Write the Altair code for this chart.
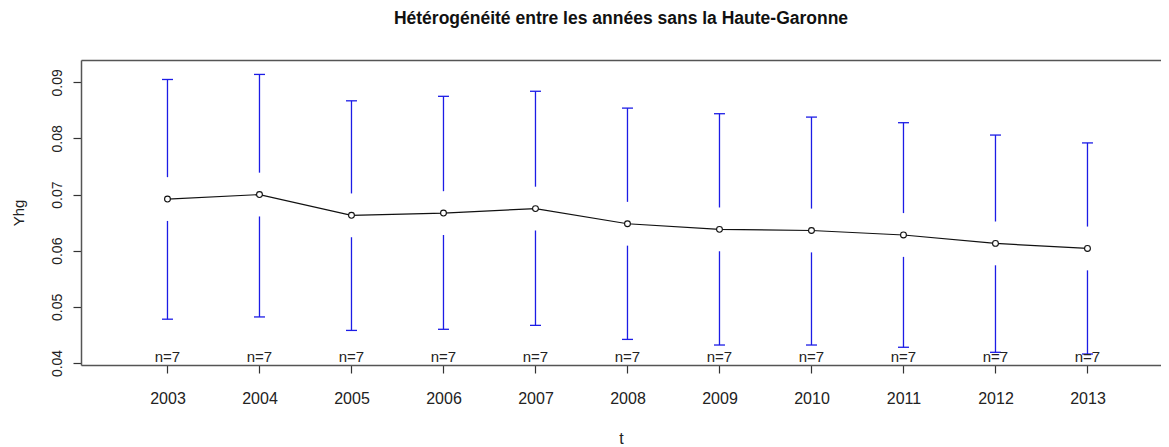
import altair as alt
import pandas as pd

years = [2003, 2004, 2005, 2006, 2007, 2008, 2009, 2010, 2011, 2012, 2013]
means = [0.0692, 0.0700, 0.0663, 0.0667, 0.0675, 0.0648, 0.0638, 0.0636, 0.0628, 0.0613, 0.0604]
upper = [0.0905, 0.0914, 0.0867, 0.0875, 0.0884, 0.0854, 0.0844, 0.0838, 0.0828, 0.0806, 0.0792]
lower = [0.0478, 0.0482, 0.0458, 0.0460, 0.0467, 0.0442, 0.0432, 0.0432, 0.0428, 0.0419, 0.0416]
counts = [7, 7, 7, 7, 7, 7, 7, 7, 7, 7, 7]
y_ticks = [0.04, 0.05, 0.06, 0.07, 0.08, 0.09]

W = 1080
Y_MIN, Y_MAX = 0.03964, 0.09397
X_MIN = 2002.06
X_MAX = X_MIN + W / 92.0
GAP = 0.0039
FONT = "Liberation Sans"
BLUE = "#1c1ce6"
FRAME = "#555"

df = pd.DataFrame({"t": years, "mean": means, "upper": upper, "lower": lower, "n": counts})
df["label"] = ["n=" + str(c) for c in counts]
df["up_start"] = df["mean"] + GAP
df["low_start"] = df["mean"] - GAP
df["ymin"] = Y_MIN

xs = alt.Scale(domain=[X_MIN, X_MAX], nice=False, zero=False)
ys = alt.Scale(domain=[Y_MIN, Y_MAX], nice=False, zero=False)

x_bottom = alt.X("t:Q", scale=xs, axis=alt.Axis(
    values=years, format="d", grid=False, title="t", tickSize=8, labelPadding=17,
    labelFontSize=16, labelFont=FONT, labelColor="#222", titleFont=FONT, titleFontSize=16,
    titleFontWeight="normal", titleColor="#222", titleY=73, titleX=540, titleBaseline="middle",
    titleAlign="center",
    domain=True, domainColor=FRAME, domainWidth=1.5,
    tickColor="#333", tickWidth=1.2, labelBaseline="top"))
x_top = alt.X("t:Q", scale=xs, axis=alt.Axis(
    orient="top", labels=False, ticks=False, grid=False, title=None,
    domain=True, domainColor=FRAME, domainWidth=1.5))
x_none = alt.X("t:Q", scale=xs, axis=None)
y_left = alt.Y("mean:Q", scale=ys, axis=alt.Axis(
    values=y_ticks, format=".2f", grid=False, title="Yhg", tickSize=8, labelPadding=9,
    labelAngle=270, labelAlign="center", labelBaseline="bottom",
    labelFontSize=14, labelFont=FONT, labelColor="#222", titleFont=FONT, titleFontSize=15,
    titleFontWeight="normal", titleColor="#222", titleAngle=270, titleX=-63, titleY=152.5,
    titleBaseline="middle", titleAlign="center",
    domain=True, domainColor=FRAME, domainWidth=1.5,
    tickColor="#333", tickWidth=1.2))

base = alt.Chart(df)

upper_seg = base.mark_rule(color=BLUE, strokeWidth=1.3).encode(
    x=x_none, y=alt.Y("upper:Q", scale=ys, axis=None), y2="up_start:Q")
lower_seg = base.mark_rule(color=BLUE, strokeWidth=1.3).encode(
    x=x_none, y=alt.Y("low_start:Q", scale=ys, axis=None), y2="lower:Q")
cap_up = base.mark_rule(color=BLUE, strokeWidth=1.3, xOffset=-5.5, x2Offset=5.5).encode(
    x=x_none, x2="t:Q", y=alt.Y("upper:Q", scale=ys, axis=None))
cap_low = base.mark_rule(color=BLUE, strokeWidth=1.3, xOffset=-5.5, x2Offset=5.5).encode(
    x=x_none, x2="t:Q", y=alt.Y("lower:Q", scale=ys, axis=None))

line = base.mark_line(color="#111", strokeWidth=1.2).encode(x=x_bottom, y=y_left)
pts = base.mark_point(shape="circle", filled=False, fill="white", fillOpacity=1,
                      color="#111", size=34, strokeWidth=1.1).encode(
    x=x_top, y=alt.Y("mean:Q", scale=ys, axis=None))
ntext = base.mark_text(font=FONT, fontSize=15, color="#222", baseline="alphabetic", dy=-3).encode(
    x=x_none, y=alt.Y("ymin:Q", scale=ys, axis=None), text="label:N")

chart = alt.layer(upper_seg, lower_seg, cap_up, cap_low, line, pts, ntext).resolve_axis(
    x="independent", y="independent"
).properties(
    width=W, height=305,
    autosize=alt.AutoSizeParams(type="none"),
    padding={"left": 73, "top": 52, "right": 0, "bottom": 80},
    title=alt.TitleParams("Hétérogénéité entre les années sans la Haute-Garonne",
                          font=FONT, fontSize=17.5, fontWeight="bold", color="#111",
                          offset=33, anchor="middle"),
).configure(background="white").configure_view(stroke=None, strokeWidth=0)

chart.save("out.html", embed_options={"renderer": "svg", "actions": False})
